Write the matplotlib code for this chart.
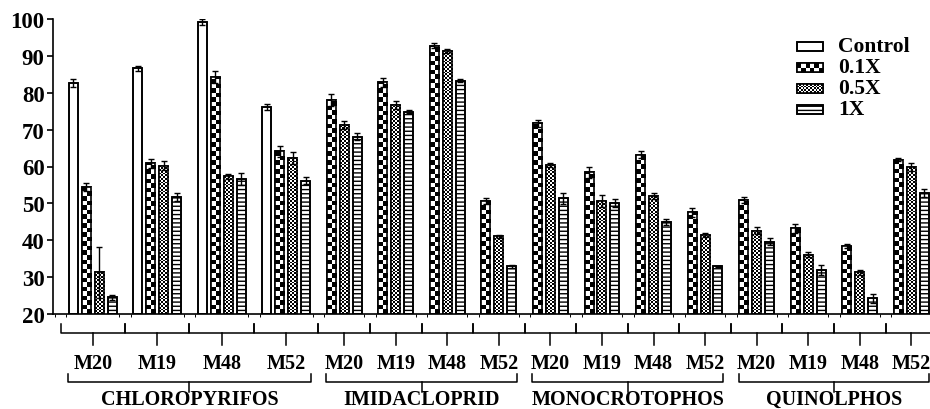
import numpy as np
import matplotlib
matplotlib.use('Agg')
import matplotlib.pyplot as plt
from matplotlib.patches import Rectangle
from matplotlib.transforms import blended_transform_factory

plt.rcParams['font.family'] = ['Liberation Serif', 'DejaVu Serif']
plt.rcParams['font.weight'] = 'bold'
plt.rcParams['hatch.linewidth'] = 1.0

# -------------------------
# Data
# -------------------------
pesticides = ['CHLOROPYRIFOS', 'IMIDACLOPRID', 'MONOCROTOPHOS', 'QUINOLPHOS']
strains = ['M20', 'M19', 'M48', 'M52']
doses = ['Control', '0.1X', '0.5X', '1X']

# control only measured for chloropyrifos
control_mean = [82.6, 86.6, 99.2, 76.2]
control_err = [1.1, 0.6, 0.8, 0.8]

x01_mean = [54.5, 60.9, 84.2, 64.1, 78.1, 82.8, 92.8, 50.7,
            71.7, 58.4, 63.2, 47.6, 51.0, 43.3, 38.4, 61.8]
x01_err = [1.1, 1.2, 1.6, 1.5, 1.6, 1.2, 0.7, 0.8,
           1.0, 1.5, 1.0, 1.2, 0.8, 1.2, 0.6, 0.4]

x05_mean = [31.3, 60.2, 57.3, 62.3, 71.3, 76.7, 91.4, 41.1,
            60.4, 50.7, 51.9, 41.4, 42.6, 36.1, 31.3, 59.9]
x05_err = [7.0, 1.2, 0.8, 1.5, 1.0, 1.1, 0.6, 0.4,
           0.5, 1.6, 0.8, 0.6, 1.0, 0.6, 0.6, 1.0]

x1_mean = [24.5, 51.7, 56.6, 56.2, 68.1, 74.9, 83.3, 32.9,
           51.4, 50.1, 45.0, 32.9, 39.6, 32.0, 24.3, 52.8]
x1_err = [0.6, 1.0, 1.6, 1.0, 1.0, 0.4, 0.4, 0.4,
          1.5, 1.1, 0.8, 0.2, 1.0, 1.3, 1.2, 1.0]

y_ticks = [20, 30, 40, 50, 60, 70, 80, 90, 100]

# -------------------------
# Bar slots: one slot per bar, one empty slot between strain groups
# -------------------------
slot = 0
bars = {d: ([], [], []) for d in doses}   # x, mean, err
group_spans = []      # (first slot, last slot, strain label)
pest_spans = []       # (first slot, last slot, pesticide label)
k = 0
for p, pest in enumerate(pesticides):
    p_first = slot
    for s, strain in enumerate(strains):
        g_first = slot
        series = []
        if p == 0:
            series.append(('Control', control_mean[s], control_err[s]))
        series.append(('0.1X', x01_mean[k], x01_err[k]))
        series.append(('0.5X', x05_mean[k], x05_err[k]))
        series.append(('1X', x1_mean[k], x1_err[k]))
        for d, m, e in series:
            bars[d][0].append(slot)
            bars[d][1].append(m)
            bars[d][2].append(e)
            slot += 1
        group_spans.append((g_first, slot - 1, strain))
        slot += 1
        k += 1
    pest_spans.append((p_first, slot - 2, pest))

# -------------------------
# Figure
# -------------------------
W, H = 930, 410
fig = plt.figure(figsize=(W / 100, H / 100), dpi=100)
ax_left, ax_bottom, ax_right, ax_top = 53, 315, 930, 20
ax = fig.add_axes([ax_left / W, (H - ax_bottom) / H,
                   (ax_right - ax_left) / W, (ax_bottom - ax_top) / H])
ax.set_xlim(-1.59, 66.45)
ax.set_ylim(20, 100)
ax.set_autoscale_on(False)

BAR_W = 0.7
BASE = 20
EDGE_LW = 1.2


def checker(ax, patch, x0, y0, w, h, cell_px, transform, zorder=2):
    p0 = transform.transform((x0, y0))
    p1 = transform.transform((x0 + w, y0 + h))
    wpx, hpx = p1[0] - p0[0], p1[1] - p0[1]
    ncols = max(1, int(round(wpx / cell_px)))
    cell = wpx / ncols
    nrows = int(np.ceil(hpx / cell))
    img = np.add.outer(np.arange(nrows), np.arange(ncols)) % 2
    top = y0 + nrows * cell * h / hpx
    im = ax.imshow(img, cmap='gray_r', vmin=0, vmax=1, origin='lower',
                   extent=(x0, x0 + w, y0, top), interpolation='nearest',
                   aspect='auto', zorder=zorder, transform=transform)
    im.set_clip_path(patch)


cells = {'0.1X': 4.5, '0.5X': 1.8}

for d in doses:
    xs, ms, es = bars[d]
    heights = [m - BASE for m in ms]
    hatch = '----' if d == '1X' else None
    rects = ax.bar(xs, heights, bottom=BASE, width=BAR_W, color='white',
                   edgecolor='black', linewidth=EDGE_LW, hatch=hatch, zorder=1)
    if d in cells:
        for r in rects:
            checker(ax, r, r.get_x(), r.get_y(), r.get_width(), r.get_height(),
                    cells[d], ax.transData)
    ax.bar(xs, heights, bottom=BASE, width=BAR_W, fill=False,
           edgecolor='black', linewidth=EDGE_LW, zorder=3)
    ax.errorbar(xs, ms, yerr=es, fmt='none', ecolor='black', elinewidth=1.0,
                capsize=2.5, capthick=1.0, zorder=4)

# -------------------------
# Axes styling
# -------------------------
for side in ['top', 'right']:
    ax.spines[side].set_visible(False)
for side in ['left', 'bottom']:
    ax.spines[side].set_linewidth(1.2)

ax.set_yticks(y_ticks)
ax.set_yticklabels([str(t) for t in y_ticks], fontsize=16.5, fontweight='bold')
ax.tick_params(axis='y', direction='out', length=4.5, width=1.2, pad=1.5)

# small marks either side of each group boundary
bounds = sorted({g[0] - 1 for g in group_spans} | {g[1] + 1 for g in group_spans})
minor = [b + o for b in bounds for o in (-0.45, 0.45)]
ax.set_xticks([])
ax.set_xticks(minor, minor=True)
ax.tick_params(axis='x', which='minor', direction='out', length=2, width=0.7)

# -------------------------
# Brackets and category labels below the axis
# -------------------------
def ypx(py):
    return (ax_bottom - py) / (ax_bottom - ax_top)


tr = blended_transform_factory(ax.transData, ax.transAxes)


def brace(xa, xb, y_top, y_mid, y_tip):
    xm = (xa + xb) / 2
    ax.plot([xa, xa, xb, xb], [ypx(y_top), ypx(y_mid), ypx(y_mid), ypx(y_top)],
            color='black', linewidth=1.1, transform=tr, clip_on=False)
    ax.plot([xm, xm], [ypx(y_mid), ypx(y_tip)], color='black', linewidth=1.1,
            transform=tr, clip_on=False)
    return xm


for first, last, strain in group_spans:
    xm = brace(first - 1, last + 1, 325, 334, 346)
    ax.text(xm, ypx(369), strain, transform=tr, ha='center', va='baseline',
            fontsize=14.5, fontweight='bold')

for first, last, pest in pest_spans:
    xm = brace(first - 0.4, last + 0.4, 375, 383, 393)
    ax.text(xm, ypx(410), pest, transform=tr, ha='center', va='bottom',
            fontsize=14.5, fontweight='bold')

# -------------------------
# Legend
# -------------------------
def axfrac(px, py):
    return (px - ax_left) / (ax_right - ax_left), ypx(py)


leg_rows = [47, 68, 89, 110]
for d, py in zip(doses, leg_rows):
    x0, y0 = axfrac(797, py + 4.5)
    x1, y1 = axfrac(823, py - 4.5)
    hatch = '----' if d == '1X' else None
    face = Rectangle((x0, y0), x1 - x0, y1 - y0, transform=ax.transAxes,
                     facecolor='white', edgecolor='black', linewidth=EDGE_LW,
                     hatch=hatch, zorder=1)
    ax.add_patch(face)
    if d in cells:
        checker(ax, face, x0, y0, x1 - x0, y1 - y0, cells[d], ax.transAxes)
    ax.add_patch(Rectangle((x0, y0), x1 - x0, y1 - y0, transform=ax.transAxes,
                           fill=False, edgecolor='black', linewidth=EDGE_LW,
                           zorder=3))
    tx, ty = axfrac(838, py)
    ax.text(tx, ty, d, transform=ax.transAxes, ha='left', va='center',
            fontsize=15.5, fontweight='bold')

ax.set_xlim(-1.59, 66.45)
ax.set_ylim(20, 100)

fig.savefig('out.png', dpi=100)
